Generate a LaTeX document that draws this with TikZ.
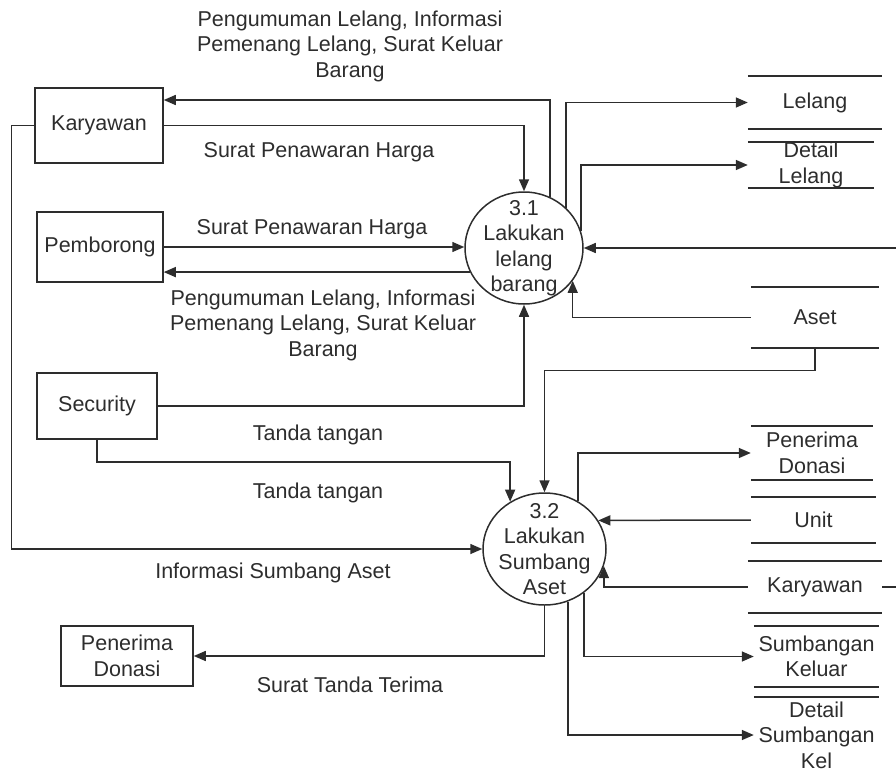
\documentclass[tikz,border=0pt]{standalone}
\usepackage{fontspec}
\setmainfont{Liberation Sans}
\usetikzlibrary{arrows.meta,shapes.geometric}
\definecolor{ink}{RGB}{45,45,45}
\begin{document}
\begin{tikzpicture}[x=1pt,y=-1pt,
  font=\fontsize{21.5}{25.5}\selectfont,
  every node/.style={text=ink},
  entity/.style={draw=ink,line width=1.5pt,rectangle,inner sep=0pt,align=center},
  proc/.style={draw=ink,line width=1.5pt,ellipse,inner sep=0pt},
  store/.style={rectangle,inner sep=0pt,align=center},
  storeline/.style={draw=ink,line width=1.5pt},
  flow/.style={draw=ink,line width=1.5pt,-{Triangle[length=12pt,width=10pt]}},
  plain/.style={draw=ink,line width=1.5pt},
  lbl/.style={align=center,inner sep=0pt}]
\useasboundingbox (0,0) rectangle (896,773);

% external entities
\node[entity,minimum width=128pt,minimum height=75pt] (kar) at (99,125.5) {Karyawan};
\node[entity,minimum width=126pt,minimum height=70pt] (pem) at (100,247) {Pemborong};
\node[entity,minimum width=120pt,minimum height=66pt] (sec) at (97,406) {Security};
\node[entity,minimum width=132pt,minimum height=60pt] (pdon) at (127,656) {Penerima\\Donasi};

% processes
\node[proc,minimum width=118pt,minimum height=112pt] (p31) at (524,248) {};
\node[lbl] (t31) at (p31) {3.1\\Lakukan\\lelang\\barang};
\node[proc,minimum width=123pt,minimum height=112pt] (p32) at (544.5,549) {};
\node[lbl] (t32) at (p32) {3.2\\Lakukan\\Sumbang\\Aset};

% data stores
\node[store,minimum width=134pt,minimum height=53pt] (sLel) at (815,102.5) {Lelang};
\node[store,minimum width=126pt,minimum height=46pt] (sDLel) at (811,165) {Detail\\Lelang};
\node[store,minimum width=128pt,minimum height=61pt] (sAset) at (815,317.5) {Aset};
\node[store,minimum width=122pt,minimum height=54pt] (sPD) at (812,453) {Penerima\\Donasi};
\node[store,minimum width=125pt,minimum height=46pt] (sUnit) at (813.5,520) {Unit};
\node[store,minimum width=134pt,minimum height=52pt] (sKar) at (815,587) {Karyawan};
\node[store,minimum width=125pt,minimum height=61pt] (sSK) at (816.5,656.5) {Sumbangan\\Keluar};
\node[store,minimum width=125pt,minimum height=76pt] (sDSK) at (816.5,735) {Detail\\Sumbangan\\Kel};

\foreach \s in {sLel,sDLel,sAset,sPD,sUnit,sKar,sSK}
  \draw[storeline] (\s.north west) -- (\s.north east) (\s.south west) -- (\s.south east);
\draw[storeline] (sDSK.north west) -- (sDSK.north east);

% flows of process 3.1
\draw[flow] (p31.63.7) |- ([yshift=25.5pt]kar.east);
\draw[flow] (kar.east) -| (p31.north);
\draw[flow] (pem.east) -- (pem.east -| p31.west);
\draw[flow] (p31.204.2) -- (p31.204.2 -| pem.east);
\draw[flow] (sec.east) -| (p31.south);
\draw[flow] (p31.44.5) |- (sLel.west);
\draw[flow] (p31.17.5) |- (sDLel.west);
\coordinate (rin) at (896,248);
\draw[flow] (rin) -- (p31.east);
\draw[flow] (sAset.west) -| (p31.-34.2);

% flows of process 3.2
\draw[flow] (sAset.south) -- ++(0,22.5) -| (p32.north);
\draw[flow] (sec.south) -- ++(0,22) -| (p32.126.6);
\draw[flow] (kar.west) -- ++(-23,0) |- (p32.west);
\draw[flow] (p32.55.6) |- (sPD.west);
\draw[flow] (sUnit.west) -- (p32.28.9);
\draw[flow] (sKar.west) -| (p32.-16.5);
\coordinate (kout) at (896,587);
\draw[plain] (sKar.east) -- (kout);
\draw[flow] (p32.south) |- (pdon.east);
\draw[flow] (p32.-48.6) |- (sSK.west);
\draw[flow] (p32.-66.6) |- (sDSK.west);

% flow labels
\node[lbl] (l1) at (350,46) {Pengumuman Lelang, Informasi\\Pemenang Lelang, Surat Keluar\\Barang};
\node[lbl] (l2) at (319,152) {Surat Penawaran Harga};
\node[lbl] (l3) at (312,229) {Surat Penawaran Harga};
\node[lbl] (l4) at (323,325) {Pengumuman Lelang, Informasi\\Pemenang Lelang, Surat Keluar\\Barang};
\node[lbl] (l5) at (318,435) {Tanda tangan};
\node[lbl] (l6) at (318,493) {Tanda tangan};
\node[lbl] (l7) at (273,573) {Informasi Sumbang Aset};
\node[lbl] (l8) at (350,685) {Surat Tanda Terima};
\end{tikzpicture}
\end{document}
